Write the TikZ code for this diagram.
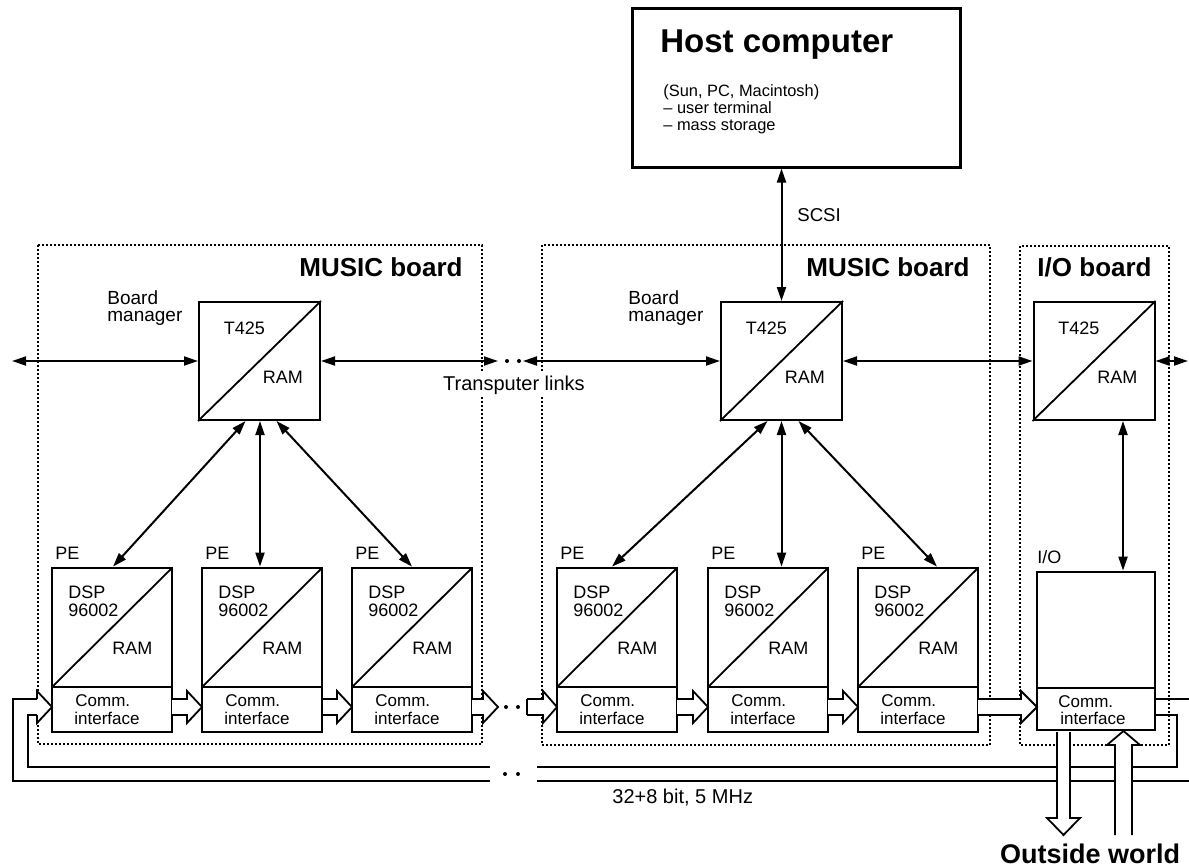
\documentclass[tikz,border=0pt]{standalone}
\usepackage{fontspec}
\setmainfont{Liberation Sans}
\usetikzlibrary{arrows.meta,calc}
\tikzset{
  bigbox/.style={draw,line width=1.5pt,inner sep=0pt},
  tbox/.style={draw,line width=1pt,inner sep=0pt,minimum width=60.5pt,minimum height=59pt},
  pebox/.style={draw,line width=1.4pt,inner sep=0pt,minimum width=60pt,minimum height=82pt},
  iobox/.style={draw,line width=1.4pt,inner sep=0pt,minimum width=59pt,minimum height=79pt},
  board/.style={line width=1pt,densely dotted},
  link/.style={line width=1pt,{Triangle[length=7pt,width=4.5pt]}-{Triangle[length=7pt,width=4.5pt]}},
  fat/.style={line width=0.9pt,fill=white,line join=miter},
  bus/.style={line width=1pt},
  thinln/.style={line width=0.9pt},
  lbl/.style={inner sep=0pt,anchor=west,font=\fontsize{9}{10}\selectfont},
  sublbl/.style={inner sep=0pt,anchor=base west,font=\fontsize{8.2}{9}\selectfont},
  title/.style={inner sep=0pt,font=\bfseries\fontsize{13}{15}\selectfont},
}
\newcommand\fatR[4]{\filldraw[fat] (#1,{#4-8}) -- (#2,{#4-8}) -- (#2,{#4-16}) -- (#3,#4) -- (#2,{#4+16}) -- (#2,{#4+8}) -- (#1,{#4+8});}
\newcommand\pe[2]{%
  \node[pebox] (#1) at ({#2+60},650) {};
  \draw[thinln] ({#2},687) -- ({#2+120},687);
  \draw[thinln] ({#2},687) -- ({#2+120},568);
  \node[lbl] (#1pe) at ({#2+3},553) {PE};
  \node[lbl] (#1dsp) at ({#2+16},592) {DSP};
  \node[lbl] (#1num) at ({#2+16},610) {96002};
  \node[lbl] (#1ram) at ({#2+60},648) {RAM};
  \node[lbl,font=\fontsize{8.5}{10}\selectfont] (#1comm) at ({#2+23},701) {Comm.};
  \node[lbl,font=\fontsize{8.5}{10}\selectfont] (#1if) at ({#2+22},718) {interface};
}
\newcommand\tmod[2]{%
  \node[tbox] (#1) at (#2,361) {};
  \draw[thinln] (#1.south west) -- (#1.north east);
  \node[lbl] (#1t) at ({#2-36},328) {T425};
  \node[lbl] (#1r) at ({#2+3},377) {RAM};
}
\begin{document}
\begin{tikzpicture}[x=0.5pt,y=-0.5pt]
\useasboundingbox (0,0) rectangle (1189,867);
% boards
\draw[board] (38,245) rectangle (482,744);
\draw[board] (542,245) rectangle (990,745);
\draw[board] (1020,246) rectangle (1169,745);
\node[title,anchor=east] (mb1) at (463,267) {MUSIC board};
\node[title,anchor=east] (mb2) at (970,267) {MUSIC board};
\node[title,anchor=east] (iob) at (1152,267) {I/O board};
% host
\node[bigbox,minimum width=164pt,minimum height=79.5pt] (host) at (796,87.5) {};
\node[inner sep=0pt,anchor=base west,font=\bfseries\fontsize{16.5}{18}\selectfont] (hostt) at (660,53) {Host computer};
\node[sublbl] (h1) at (663,96) {(Sun, PC, Macintosh)};
\node[sublbl] (h2) at (663,113) {\textendash{} user terminal};
\node[sublbl] (h3) at (663,130) {\textendash{} mass storage};
% board managers
\tmod{t1}{259.5}
\tmod{t2}{781.5}
\tmod{t3}{1094}
\node[lbl,font=\fontsize{9.5}{10}\selectfont] (bm1a) at (107,298) {Board};
\node[lbl,font=\fontsize{9.5}{10}\selectfont] (bm1b) at (107,318) {manager};
\node[lbl,font=\fontsize{9.5}{10}\selectfont] (bm2a) at (628,298) {Board};
\node[lbl,font=\fontsize{9.5}{10}\selectfont] (bm2b) at (628,318) {manager};
% PEs
\pe{p1}{52}
\pe{p2}{202}
\pe{p3}{352}
\pe{p4}{557}
\pe{p5}{708}
\pe{p6}{858}
% I/O
\node[iobox] (io) at (1096,651) {};
\draw[thinln] (1037,688) -- (1155,688);
\node[lbl] (iol) at (1037,557) {I/O};
\node[lbl,font=\fontsize{8.5}{10}\selectfont] (iocomm) at (1058,702) {Comm.};
\node[lbl,font=\fontsize{8.5}{10}\selectfont] (ioif) at (1060,718) {interface};
% transputer links
\coordinate (L0) at (12,361);
\coordinate (L1) at (498,361);
\coordinate (L2) at (523,361);
\coordinate (L3) at (1188,361);
\draw[link] (L0) -- (t1.west);
\draw[link] (t1.east) -- (L1);
\draw[link] (L2) -- (t2.west);
\draw[link] (t2.east) -- (t3.west);
\draw[link] (t3.east) -- (L3);
\fill (507,361) circle (2);
\fill (519,361) circle (2);
\node[inner sep=1.5pt,fill=white,font=\fontsize{10}{12}\selectfont] (tl) at (514,385) {Transputer links};
% SCSI
\draw[link] (host.south -| t2.north) -- (t2.north);
\node[lbl,font=\fontsize{9.3}{10}\selectfont] (scsi) at (797,215) {SCSI};
% manager to PE
\draw[link] ($(t1.south)+(-14,0)$) -- ($(p1.north)+(1,0)$);
\draw[link] ($(t1.south)+(0.5,0)$) -- ($(p2.north)+(-2,0)$);
\draw[link] ($(t1.south)+(17,0)$) -- (p3.north);
\draw[link] ($(t2.south)+(-14,0)$) -- ($(p4.north)+(-5,0)$);
\draw[link] (t2.south) -- (t2.south |- p5.north);
\draw[link] ($(t2.south)+(17,0)$) -- ($(p6.north)+(19,0)$);
\draw[link] ($(t3.south)+(29,0)$) -- ($(io.north)+(27,0)$);
% comm ring
\draw[bus] (490,781) -- (13,781) -- (13,699) -- (37,699);
\draw[bus] (37,715) -- (28,715) -- (28,767) -- (490,767);
\filldraw[fat] (37,699) -- (37,691) -- (52,707) -- (37,723) -- (37,715);
\fatR{172}{187}{202}{707}
\fatR{323}{337}{352}{707}
\fatR{472}{483}{498}{707}
\fill (506,707) circle (2);
\fill (518,707) circle (2);
\fatR{527}{543}{557}{707}
\draw[fat] (527,699) -- (527,715);
\fatR{677}{693}{708}{707}
\fatR{828}{843}{858}{707}
\fatR{978}{1021}{1037}{707}
\draw[bus] (1155,699) -- (1189,699);
\draw[bus] (1155,715) -- (1177,715) -- (1177,767) -- (537,767);
\draw[bus] (537,781) -- (1189,781);
\fill (505,774) circle (2);
\fill (518,774) circle (2);
\node[lbl,font=\fontsize{10}{12}\selectfont] (bus) at (612,798) {32+8 bit, 5 MHz};
% outside world
\filldraw[fat] (1057,732) -- (1057,818) -- (1047,818) -- (1063.5,835) -- (1080,818) -- (1070,818) -- (1070,732);
\filldraw[fat] (1115,835) -- (1115,745) -- (1107,745) -- (1123.5,731) -- (1140,745) -- (1132,745) -- (1132,835);
\node[inner sep=0pt,font=\bfseries\fontsize{13.5}{15}\selectfont] (ow) at (1090,854) {Outside world};
\end{tikzpicture}
\end{document}
